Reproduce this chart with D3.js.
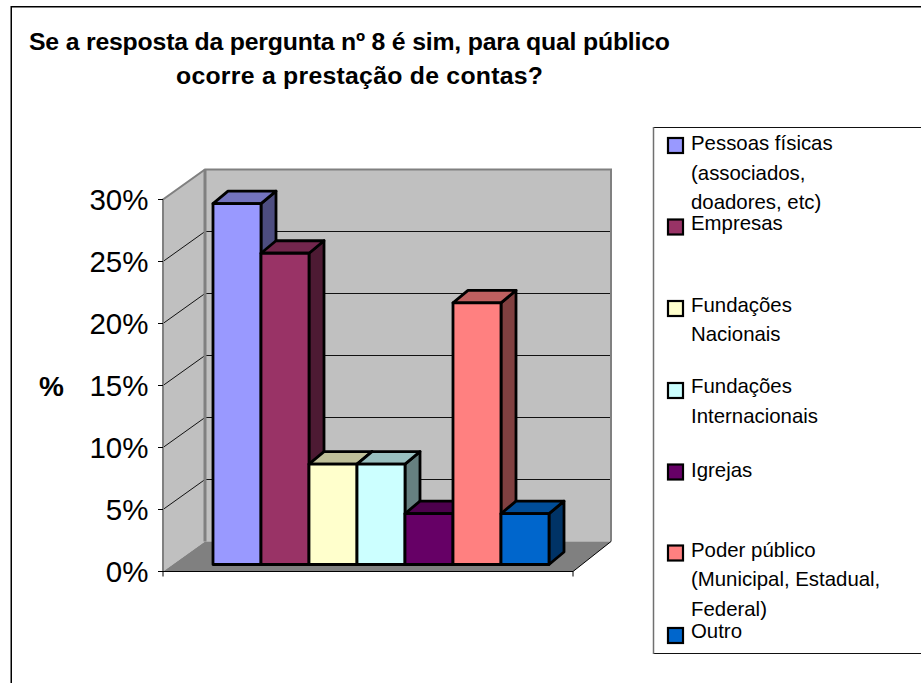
<!DOCTYPE html>
<html><head><meta charset="utf-8">
<script src="https://cdn.jsdelivr.net/npm/d3@7"></script>
<style>html,body{margin:0;padding:0;background:#fff}svg{display:block}text{font-family:"Liberation Sans",Arial,sans-serif;fill:#000}</style>
</head><body><svg id="c" width="921" height="683"></svg>
<script>
const titleLines=["Se a resposta da pergunta nº 8 é sim, para qual público","ocorre a prestação de contas?"];
const categories=["Pessoas físicas (associados, doadores, etc)","Empresas","Fundações Nacionais","Fundações Internacionais","Igrejas","Poder público (Municipal, Estadual, Federal)","Outro"];
const values=[29.1,25.1,8.1,8.1,4.1,21.1,4.1];
const colors=["#9999ff","#993366","#ffffcc","#ccffff","#660066","#ff8080","#0066cc"];
const ticks=[0,5,10,15,20,25,30];
const legendLines=[["Pessoas físicas","(associados,","doadores, etc)"],["Empresas"],["Fundações","Nacionais"],["Fundações","Internacionais"],["Igrejas"],["Poder público","(Municipal, Estadual,","Federal)"],["Outro"]];
const legendBoxY=[138,219.5,301,383,464.5,545.5,628];
const legendLineY=[150,230,311.5,393,476.5,556.5,637.5];

const svg=d3.select("#c");
// frame
svg.append("path").attr("d","M11.25,683V6.75H921").attr("fill","none").attr("stroke","#000").attr("stroke-width",1.5);

// title
svg.append("text").attr("x",349.5).attr("y",50).attr("text-anchor","middle").attr("font-size",24.8).attr("font-weight","bold").attr("textLength",641).text(titleLines[0]);
svg.append("text").attr("x",359.5).attr("y",84).attr("text-anchor","middle").attr("font-size",24.8).attr("font-weight","bold").attr("textLength",367).text(titleLines[1]);

// scales
const y=d3.scaleLinear().domain([0,30]).range([571.5,199.5]);
const depth={dx:42,dy:-30};
const x0=163, xR=573;
const barY=d3.scaleLinear().domain([0,30]).range([564.5,192.5]);
const barX=d3.scaleBand().domain(d3.range(categories.length)).range([213,549]).padding(0);
const bd={dx:15,dy:-12.5};

const g=svg.append("g");
const poly=(pts,fill,stroke,sw)=>g.append("polygon").attr("points",pts.map(p=>p.join(",")).join(" ")).attr("fill",fill).attr("stroke",stroke||"none").attr("stroke-width",sw||0).attr("stroke-linejoin","round");
// walls
poly([[x0,y(0)],[x0+depth.dx,y(0)+depth.dy],[x0+depth.dx,y(30)+depth.dy],[x0,y(30)]],"#c0c0c0");
poly([[x0+depth.dx,y(0)+depth.dy],[xR+38,y(0)+depth.dy],[xR+38,y(30)+depth.dy],[x0+depth.dx,y(30)+depth.dy]],"#c0c0c0");
poly([[x0,y(0)],[x0+depth.dx,y(0)+depth.dy],[xR+38,y(0)+depth.dy],[xR,y(0)]],"#808080");
// gridlines
ticks.slice(1,-1).forEach(t=>{
 g.append("path").attr("d",`M${x0},${y(t)}L${x0+depth.dx},${y(t)+depth.dy}L${xR+38},${y(t)+depth.dy}`).attr("fill","none").attr("stroke","#111").attr("stroke-width",1);
});
// wall edges
g.append("path").attr("d",`M${x0},${y(0)}V${y(30)}L${x0+depth.dx},${y(30)+depth.dy}H${xR+38}V${y(0)+depth.dy}`).attr("fill","none").attr("stroke","#808080").attr("stroke-width",2);
g.append("path").attr("d",`M${x0+depth.dx},${y(30)+depth.dy}V${y(0)+depth.dy}`).attr("stroke","#808080").attr("stroke-width",3).attr("fill","none");
// floor edges
g.append("path").attr("d",`M${x0},${y(0)}H${xR}L${xR+38},${y(0)+depth.dy}`).attr("fill","none").attr("stroke","#000").attr("stroke-width",1);
// ticks and labels
ticks.forEach(t=>{
 g.append("line").attr("x1",x0-5).attr("x2",x0).attr("y1",y(t)).attr("y2",y(t)).attr("stroke","#000");
 g.append("text").attr("x",148.5).attr("y",y(t)+10).attr("text-anchor","end").attr("font-size",29.5).text(t+"%");
});
g.append("line").attr("x1",x0).attr("x2",x0).attr("y1",y(0)).attr("y2",y(0)+5).attr("stroke","#000");
g.append("line").attr("x1",xR).attr("x2",xR).attr("y1",y(0)).attr("y2",y(0)+5).attr("stroke","#000");
g.append("text").attr("x",51.5).attr("y",396).attr("text-anchor","middle").attr("font-size",28).attr("font-weight","bold").text("%");

// bars (painted left to right)
const shade=(c,k)=>{const r=d3.rgb(c);return d3.rgb(r.r*k,r.g*k,r.b*k).formatHex();};
const sw=2.8;
values.forEach((v,i)=>{
 const l=barX(i), r=l+barX.bandwidth(), t=barY(v), b=barY(0);
 poly([[r,b],[r+bd.dx,b+bd.dy],[r+bd.dx,t+bd.dy],[r,t]],shade(colors[i],0.5),"#000",sw);
 poly([[l,t],[l+bd.dx,t+bd.dy],[r+bd.dx,t+bd.dy],[r,t]],shade(colors[i],0.75),"#000",sw);
 poly([[l,t],[r,t],[r,b],[l,b]],colors[i],"#000",sw);
});

// legend
svg.append("path").attr("d","M921,127.5H653.5V653.5H921").attr("stroke","#111").attr("stroke-width",1).attr("fill","none");
svg.append("path").attr("d","M653.5,127V654").attr("stroke","#707070").attr("stroke-width",1.5).attr("fill","none");
categories.forEach((c,i)=>{
 svg.append("rect").attr("x",668).attr("y",legendBoxY[i]).attr("width",15).attr("height",15).attr("fill",colors[i]).attr("stroke","#000").attr("stroke-width",2.2);
 legendLines[i].forEach((s,j)=>{
  svg.append("text").attr("x",691).attr("y",legendLineY[i]+j*29.5).attr("font-size",20.4).text(s);
 });
});
</script></body></html>
